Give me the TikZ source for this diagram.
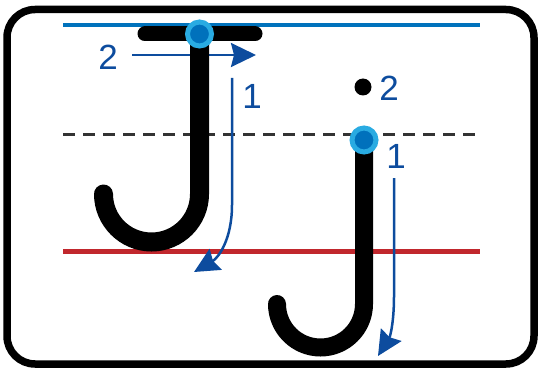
\documentclass[tikz,border=0pt]{standalone}
\usepackage{fontspec}
\setmainfont{Liberation Sans}
\usetikzlibrary{arrows.meta}
\definecolor{guideblue}{HTML}{0072BC}
\definecolor{guidered}{HTML}{C1272D}
\definecolor{strokeblue}{HTML}{0D4C9E}
\definecolor{startlight}{HTML}{29ABE2}
\definecolor{startdark}{HTML}{0071BC}

\begin{document}
\begin{tikzpicture}[
    x=1pt, y=-1pt,
    guide/.style={line width=4.5pt},
    letter/.style={draw=black, line width=19pt, line cap=round},
    stroke/.style={strokeblue, line width=2.5pt, -{Stealth[length=25pt, width=24pt, inset=3pt]}},
    startdot/.style={circle, fill=startdark, draw=startlight, line width=5pt, minimum size=24pt, inner sep=0pt},
    jdot/.style={circle, fill=black, minimum size=17pt, inner sep=0pt},
    num/.style={text=strokeblue, font=\fontsize{35}{35}\selectfont, inner sep=0pt}
]
    \useasboundingbox (0,0) rectangle (539,369);

    % Frame
    \draw[line width=7.5pt, rounded corners=28pt] (7,9.5) rectangle (534,364);

    % Guidelines
    \draw[guide, guideblue] (63,25) -- (480,25);
    \draw[line width=3pt, dash pattern=on 12pt off 8pt, black!80] (63,135) -- (480,135);
    \draw[guide, guidered, line width=5pt] (63,251) -- (480,251);

    % Stroke arrows
    \coordinate (bigtwoA) at (132,55);
    \coordinate (bigtwoB) at (256,55);
    \coordinate (bigoneA) at (232,78);
    \coordinate (bigoneB) at (194,272);
    \coordinate (smalloneA) at (394,178);
    \coordinate (smalloneB) at (378,356);
    \draw[stroke] (bigtwoA) -- (bigtwoB);
    \draw[stroke] (bigoneA) -- (232,205) .. controls (232,240) and (218,258) .. (bigoneB);
    \draw[stroke] (smalloneA) -- (394,297) .. controls (394,318) and (391,335) .. (smalloneB);

    % Letters
    \draw[letter, line width=15pt] (145,34) -- (255,34);
    \draw[letter] (199.5,34) -- (199.5,194) arc[start angle=0, end angle=-180, radius=48pt];
    \draw[letter, line width=18pt] (364,140) -- (364,304) arc[start angle=0, end angle=-180, radius=43.5pt];

    % Nodes
    \node[startdot] (bigstart) at (199.5,34) {};
    \node[startdot] (smallstart) at (364,140) {};
    \node[jdot] (smalldot) at (363,87) {};
    \node[num] (bigtwo) at (108,57) {2};
    \node[num] (bigone) at (252,96) {1};
    \node[num] (smalltwo) at (389,88) {2};
    \node[num] (smallone) at (396,156) {1};
\end{tikzpicture}
\end{document}
